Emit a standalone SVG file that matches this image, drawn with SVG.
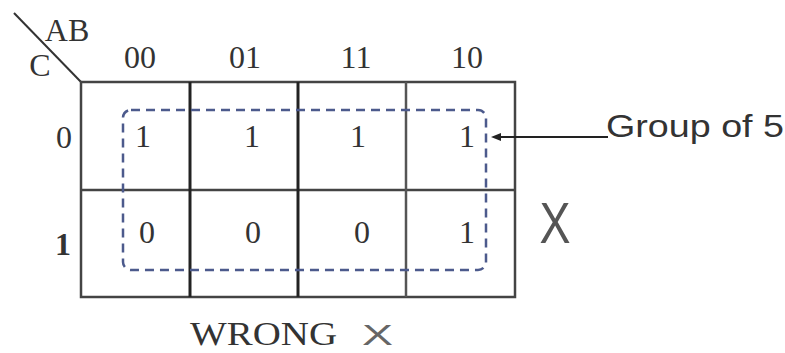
<svg xmlns="http://www.w3.org/2000/svg" width="785" height="353" viewBox="0 0 785 353">
<defs>
<style>
.t{font-family:"Liberation Serif",serif;fill:#333;text-anchor:middle}
.d{font-size:32px}
.g{stroke:#444;fill:none}
</style>
<marker id="ah" viewBox="0 0 10 10" refX="1" refY="5" markerWidth="5" markerHeight="5" orient="auto-start-reverse">
<path d="M0,1 L10,5 L0,9 z" fill="#222"/>
</marker>
</defs>
<rect width="785" height="353" fill="#fff"/>
<g id="labels">
<line x1="14" y1="13" x2="81" y2="82" stroke="#333" stroke-width="2"/>
<text class="t" x="67" y="41" font-size="32">AB</text>
<text class="t" x="40" y="76" font-size="32">C</text>
<text class="t d" x="140" y="68">00</text>
<text class="t d" x="245" y="68">01</text>
<text class="t d" x="356" y="68">11</text>
<text class="t d" x="467" y="68">10</text>
<text class="t d" x="64" y="148">0</text>
<text class="t d" x="63" y="255" font-weight="bold">1</text>
</g>
<g id="kmap">
<rect x="81" y="82" width="434" height="215" class="g" stroke-width="2.5"/>
<line x1="81" y1="190" x2="515" y2="190" class="g" stroke-width="2.5"/>
<line x1="190" y1="82" x2="190" y2="297" stroke="#222" stroke-width="3"/>
<line x1="298" y1="82" x2="298" y2="297" stroke="#222" stroke-width="3"/>
<line x1="406" y1="82" x2="406" y2="297" stroke="#555" stroke-width="2.5"/>
</g>
<g id="cells">
<text class="t d" x="143" y="147">1</text>
<text class="t d" x="252" y="147">1</text>
<text class="t d" x="358" y="147">1</text>
<text class="t d" x="467" y="147">1</text>
<text class="t d" x="147" y="243">0</text>
<text class="t d" x="253" y="243">0</text>
<text class="t d" x="362" y="243">0</text>
<text class="t d" x="467" y="243">1</text>
</g>
<g id="group">
<rect x="123" y="110" width="363" height="160" rx="8" fill="none" stroke="#4c5a8c" stroke-width="2.5" stroke-dasharray="9,6"/>
</g>
<g id="connectors">
<line x1="608" y1="137" x2="500" y2="137" stroke="#222" stroke-width="2" marker-end="url(#ah)"/>
</g>
<g id="note">
<text x="606" y="137" font-family="Liberation Sans, sans-serif" font-size="31" fill="#333" textLength="178" lengthAdjust="spacingAndGlyphs">Group of 5</text>
</g>
<g id="mark">
<text x="555" y="243" font-family="Liberation Sans, sans-serif" font-size="58" font-weight="300" fill="#555" text-anchor="middle" textLength="31" lengthAdjust="spacingAndGlyphs">X</text>
</g>
<g id="caption">
<text x="190" y="345" font-family="Liberation Serif, serif" font-size="34" fill="#333" textLength="147" lengthAdjust="spacingAndGlyphs">WRONG</text>
<text x="362" y="345" font-family="Liberation Sans, sans-serif" font-size="30" font-weight="300" fill="#666" textLength="31" lengthAdjust="spacingAndGlyphs">X</text>
</g>
</svg>
